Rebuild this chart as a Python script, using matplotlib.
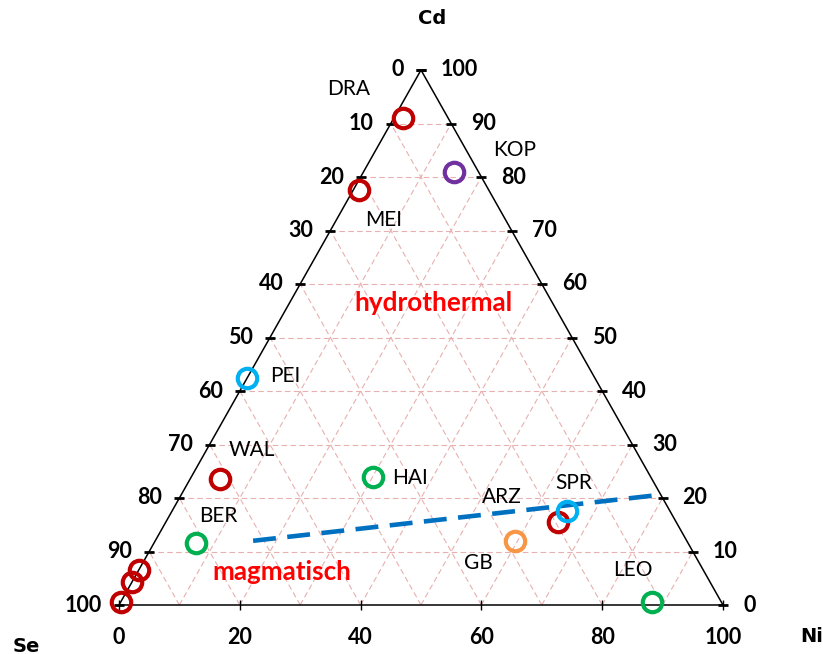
import numpy as np
import matplotlib.pyplot as plt

plt.rcParams['font.family'] = ['Lato', 'DejaVu Sans']

# sample compositions in percent (Se + Cd + Ni = 100)
names = ['DRA', 'KOP', 'MEI', 'PEI', 'WAL', 'HAI', 'BER', 'ARZ', 'SPR', 'GB', 'LEO', '', '', '']
cd = [91, 81, 77.5, 42.5, 23.5, 24, 11.5, 15.5, 17.5, 12, 0.5, 6.5, 4.3, 0.5]
ni = [1.5, 15, 1, 0, 5, 30, 7, 65, 65.5, 59.5, 88, 0, 0, 0]
se = [100 - a - b for a, b in zip(cd, ni)]
colors = ['#C00000', '#7030A0', '#C00000', '#00B0F0', '#C00000', '#00B050', '#00B050',
          '#C00000', '#00B0F0', '#F79646', '#00B050', '#C00000', '#C00000', '#C00000']
# label offsets (pixels) relative to each point
offsets = [(-54, 29), (60, 22), (25, -30), (38, 2), (32, 29), (37, -1), (22, 27),
           (-57, 25), (6, 28), (-36, -22), (-19, 32), (0, 0), (0, 0), (0, 0)]

# boundary line between hydrothermal and magmatic
line_cd = [12, 20.6]
line_ni = [16.2, 79.3]

ticks = np.arange(0, 101, 10)
bottom_ticks = np.arange(0, 101, 20)


def xy(cd_, ni_):
    cd_ = np.asarray(cd_, dtype=float) / 100
    ni_ = np.asarray(ni_, dtype=float) / 100
    return ni_ + cd_ / 2, cd_


fig = plt.figure(figsize=(8.23, 6.54), dpi=100)
ax = fig.add_axes([0, 0, 1, 1])
ax.set_xlim(-119 / 604, 704 / 604)
ax.set_ylim(-49 / 535, 605 / 535)
ax.axis('off')

grid_kw = dict(color='#E8B0B0', lw=0.8, dashes=(5, 3), zorder=1)
for k in range(10, 100, 10):
    # constant Cd
    x, y = xy([k, k], [0, 100 - k])
    ax.plot(x, y, **grid_kw)
    # constant Ni
    x, y = xy([0, 100 - k], [k, k])
    ax.plot(x, y, **grid_kw)
    # constant Se
    x, y = xy([0, 100 - k], [100 - k, 0])
    ax.plot(x, y, **grid_kw)

# triangle outline
x, y = xy([0, 100, 0, 0], [0, 0, 100, 0])
ax.plot(x, y, color='black', lw=1.1, zorder=2)

# ticks on left (Se) and right (Cd) edges
lx, ly = xy(ticks, np.zeros_like(ticks))
rx, ry = xy(ticks, 100 - ticks)
ax.plot(lx, ly, ls='none', marker='_', ms=7, mew=2, color='black', zorder=3)
ax.plot(rx, ry, ls='none', marker='_', ms=7, mew=2, color='black', zorder=3)
bx, by = xy(np.zeros_like(bottom_ticks), bottom_ticks)
ax.plot(bx, by, ls='none', marker='|', ms=7, mew=1, color='black', zorder=3)

tick_font = dict(fontsize=15.5, fontweight='bold')
for t, x0, y0 in zip(ticks, lx, ly):
    ax.annotate(str(100 - t), (x0, y0), xytext=(-17, 0), textcoords='offset pixels',
                ha='right', va='center', **tick_font)
for t, x0, y0 in zip(ticks, rx, ry):
    ax.annotate(str(t), (x0, y0), xytext=(20, 0), textcoords='offset pixels',
                ha='left', va='center', **tick_font)
for t, x0, y0 in zip(bottom_ticks, bx, by):
    ax.annotate(str(t), (x0, y0), xytext=(0, -32), textcoords='offset pixels',
                ha='center', va='center', **tick_font)

# corner labels
corner_font = dict(fontsize=14, fontweight='bold', family='DejaVu Sans')
ax.annotate('Cd', xy(100, 0), xytext=(11, 52), textcoords='offset pixels',
            ha='center', va='center', **corner_font)
ax.annotate('Se', xy(0, 0), xytext=(-93, -41), textcoords='offset pixels',
            ha='center', va='center', **corner_font)
ax.annotate('Ni', xy(0, 100), xytext=(89, -31), textcoords='offset pixels',
            ha='center', va='center', **corner_font)

# boundary line
x, y = xy(line_cd, line_ni)
ax.plot(x, y, color='#0070C0', lw=3.3, dashes=(5, 2.5), zorder=4)

# samples
px, py = xy(cd, ni)
for x0, y0, c in zip(px, py, colors):
    ax.plot(x0, y0, ls='none', marker='o', ms=14, mfc='none', mec=c, mew=3, zorder=5)
for name, x0, y0, off in zip(names, px, py, offsets):
    if name:
        ax.annotate(name, (x0, y0), xytext=off, textcoords='offset pixels',
                    ha='center', va='center', fontsize=15)

ax.text(0.52, 0.565, 'hydrothermal', color='red', fontsize=18.8, fontweight='bold',
        ha='center', va='center')
ax.text(0.269, 0.062, 'magmatisch', color='red', fontsize=18.7, fontweight='bold',
        ha='center', va='center')

fig.savefig('out.png', dpi=100)
